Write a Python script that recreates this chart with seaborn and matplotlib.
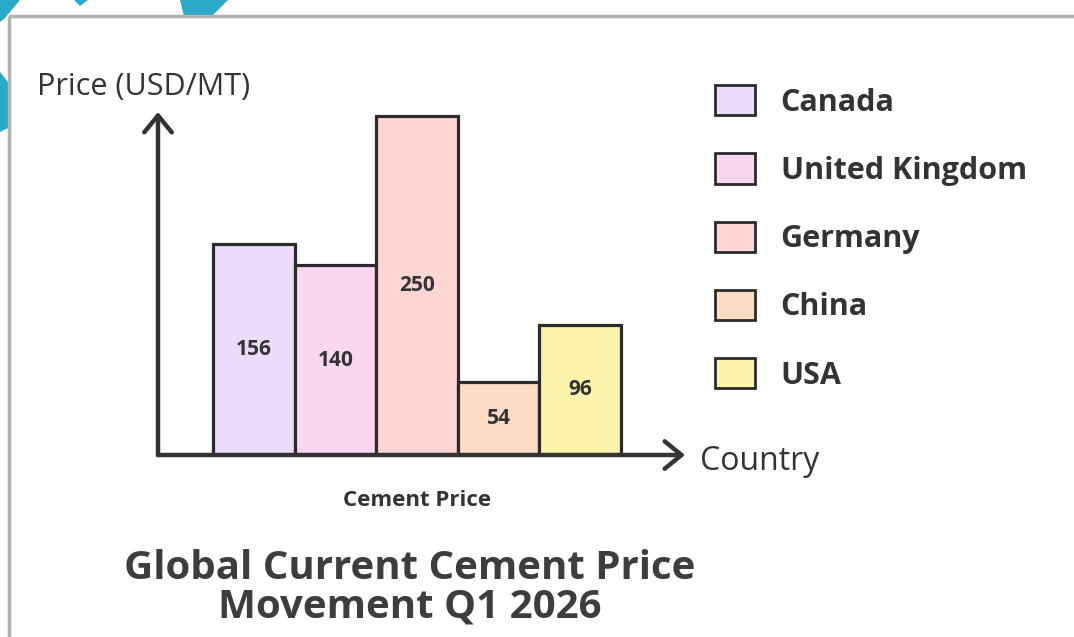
import matplotlib
matplotlib.use("Agg")
import matplotlib.pyplot as plt
import matplotlib.patches as mpatches
import seaborn as sns

# data
countries = ["Canada", "United Kingdom", "Germany", "China", "USA"]
prices = [156, 140, 250, 54, 96]
bar_colors = ["#ebdcfb", "#fbd6ef", "#fed5d5", "#fddcc6", "#fcf4aa"]

ink = "#333333"

sns.set_theme(style="white")
plt.rcParams["font.family"] = ["Open Sans", "DejaVu Sans"]

W, H = 1074, 637
fig = plt.figure(figsize=(W / 100, H / 100), dpi=100)
fig.patch.set_facecolor("white")

# background layer in pixel coordinates for frame, decorations and texts
bg = fig.add_axes([0, 0, 1, 1], zorder=0)
bg.set_xlim(0, W)
bg.set_ylim(H, 0)
bg.axis("off")

teal = "#2aa9c8"
bg.add_patch(mpatches.Polygon([(0, 0), (20, 0), (5, 18), (0, 22)], closed=True, color=teal, lw=0))
bg.add_patch(mpatches.Polygon([(74, 0), (88, 0), (80, 6)], closed=True, color=teal, lw=0))
bg.add_patch(mpatches.Polygon([(180, 0), (228, 0), (212, 16), (184, 16)], closed=True, color=teal, lw=0))
bg.add_patch(mpatches.Polygon([(0, 72), (8, 82), (8, 128), (0, 132)], closed=True, color=teal, lw=0))

# grey frame
bg.add_patch(mpatches.Rectangle((9, 16), W + 20, H + 20, fill=False, ec="#b2b2b2", lw=2.5))

# main chart axes: y arrow at x=158, baseline at y=455, arrow tips at x=685 / y=112
left, right, bottom, top = 158, 685, 455, 112
ax = fig.add_axes([left / W, 1 - bottom / H, (right - left) / W, (bottom - top) / H], zorder=2)
ax.patch.set_alpha(0)

sns.barplot(x=countries, y=prices, hue=countries, palette=bar_colors, saturation=1, width=1.0,
            edgecolor="#2b2b2b", linewidth=2.3, legend=False, ax=ax)

px_per_unit = (621 - 213) / 5
ax.set_xlim(-0.5 - (213 - left) / px_per_unit, 4.5 + (right - 621) / px_per_unit)
ax.set_ylim(0, (bottom - top) / 1.355)

for c in ax.containers:
    ax.bar_label(c, label_type="center", fontsize=15, fontweight="bold", color=ink)

for s in ax.spines.values():
    s.set_visible(False)
ax.set_xticks([])
ax.set_yticks([])
ax.set_xlabel("")
ax.set_ylabel("")

arrow = dict(arrowstyle="->,head_length=0.55,head_width=0.45", lw=3.2, color=ink,
             mutation_scale=22, shrinkA=0, shrinkB=0)
ax.annotate("", xy=(1, 0), xytext=(0, 0), xycoords="axes fraction", arrowprops=arrow)
ax.annotate("", xy=(0, 1), xytext=(0, 0), xycoords="axes fraction", arrowprops=arrow)

# legend
handles = [mpatches.Patch(facecolor=col, edgecolor="#2b2b2b", linewidth=2.0, label=name)
           for name, col in zip(countries, bar_colors)]
leg = ax.legend(handles=handles, loc="upper left", bbox_to_anchor=(715 / W, 1 - 85 / H),
                bbox_transform=fig.transFigure, frameon=False, borderpad=0, borderaxespad=0,
                prop={"size": 22, "weight": "bold"}, handlelength=1.3, handleheight=1.15,
                handletextpad=0.85, labelspacing=1.17)
for t in leg.get_texts():
    t.set_color(ink)

# texts
bg.text(37, 87, "Price (USD/MT)", fontsize=22, color=ink, ha="left", va="center")
bg.text(700, 461, "Country", fontsize=23, color=ink, ha="left", va="center")
bg.text(417, 500, "Cement Price", fontsize=16, fontweight="bold", color=ink, ha="center", va="center")
bg.text(410, 588, "Global Current Cement Price\nMovement Q1 2026", fontsize=29, fontweight="bold",
        color="#3d3d3d", ha="center", va="center", linespacing=1.0)

fig.savefig("out.png", dpi=100, facecolor="white")
